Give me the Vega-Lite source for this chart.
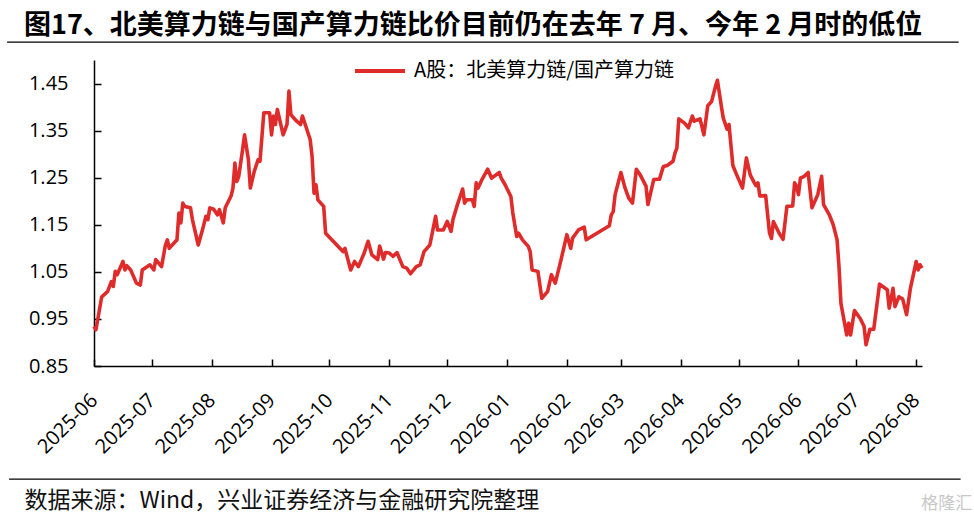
{
  "$schema": "https://vega.github.io/schema/vega-lite/v6.json",
  "width": 828,
  "height": 306,
  "autosize": {"type": "none"},
  "padding": {"left": 94, "top": 60, "right": 52, "bottom": 154},
  "background": "white",
  "config": {"view": {"stroke": null}, "font": "Noto Sans CJK SC"},
  "title": {
    "text": "图17、北美算力链与国产算力链比价目前仍在去年 7 月、今年 2 月时的低位",
    "anchor": "start",
    "frame": "group",
    "dx": -70,
    "offset": 1,
    "fontSize": 27,
    "fontWeight": "bold",
    "font": "Noto Sans CJK SC",
    "color": "#000000"
  },
  "data": {
    "values": [
      {"date": "2025-06-01", "ratio": 0.934},
      {"date": "2025-06-02", "ratio": 0.927},
      {"date": "2025-06-05", "ratio": 0.997},
      {"date": "2025-06-08", "ratio": 1.008},
      {"date": "2025-06-10", "ratio": 1.029},
      {"date": "2025-06-11", "ratio": 1.019},
      {"date": "2025-06-12", "ratio": 1.051},
      {"date": "2025-06-13", "ratio": 1.044},
      {"date": "2025-06-16", "ratio": 1.072},
      {"date": "2025-06-17", "ratio": 1.054},
      {"date": "2025-06-18", "ratio": 1.063},
      {"date": "2025-06-20", "ratio": 1.054},
      {"date": "2025-06-23", "ratio": 1.026},
      {"date": "2025-06-25", "ratio": 1.022},
      {"date": "2025-06-26", "ratio": 1.054},
      {"date": "2025-06-30", "ratio": 1.065},
      {"date": "2025-07-02", "ratio": 1.054},
      {"date": "2025-07-03", "ratio": 1.076},
      {"date": "2025-07-06", "ratio": 1.061},
      {"date": "2025-07-08", "ratio": 1.107},
      {"date": "2025-07-09", "ratio": 1.118},
      {"date": "2025-07-10", "ratio": 1.100},
      {"date": "2025-07-14", "ratio": 1.118},
      {"date": "2025-07-15", "ratio": 1.175},
      {"date": "2025-07-16", "ratio": 1.154},
      {"date": "2025-07-17", "ratio": 1.196},
      {"date": "2025-07-18", "ratio": 1.189},
      {"date": "2025-07-21", "ratio": 1.186},
      {"date": "2025-07-22", "ratio": 1.161},
      {"date": "2025-07-25", "ratio": 1.107},
      {"date": "2025-07-27", "ratio": 1.136},
      {"date": "2025-07-29", "ratio": 1.168},
      {"date": "2025-07-30", "ratio": 1.161},
      {"date": "2025-07-31", "ratio": 1.186},
      {"date": "2025-08-02", "ratio": 1.183},
      {"date": "2025-08-04", "ratio": 1.171},
      {"date": "2025-08-05", "ratio": 1.182},
      {"date": "2025-08-07", "ratio": 1.154},
      {"date": "2025-08-08", "ratio": 1.186},
      {"date": "2025-08-11", "ratio": 1.211},
      {"date": "2025-08-12", "ratio": 1.228},
      {"date": "2025-08-13", "ratio": 1.281},
      {"date": "2025-08-14", "ratio": 1.242},
      {"date": "2025-08-15", "ratio": 1.253},
      {"date": "2025-08-17", "ratio": 1.310},
      {"date": "2025-08-18", "ratio": 1.341},
      {"date": "2025-08-20", "ratio": 1.288},
      {"date": "2025-08-21", "ratio": 1.228},
      {"date": "2025-08-23", "ratio": 1.263},
      {"date": "2025-08-25", "ratio": 1.288},
      {"date": "2025-08-26", "ratio": 1.285},
      {"date": "2025-08-28", "ratio": 1.388},
      {"date": "2025-08-31", "ratio": 1.388},
      {"date": "2025-09-01", "ratio": 1.341},
      {"date": "2025-09-02", "ratio": 1.381},
      {"date": "2025-09-03", "ratio": 1.363},
      {"date": "2025-09-04", "ratio": 1.395},
      {"date": "2025-09-05", "ratio": 1.377},
      {"date": "2025-09-07", "ratio": 1.341},
      {"date": "2025-09-09", "ratio": 1.363},
      {"date": "2025-09-10", "ratio": 1.434},
      {"date": "2025-09-11", "ratio": 1.384},
      {"date": "2025-09-14", "ratio": 1.370},
      {"date": "2025-09-16", "ratio": 1.363},
      {"date": "2025-09-17", "ratio": 1.381},
      {"date": "2025-09-21", "ratio": 1.331},
      {"date": "2025-09-22", "ratio": 1.295},
      {"date": "2025-09-23", "ratio": 1.217},
      {"date": "2025-09-24", "ratio": 1.235},
      {"date": "2025-09-25", "ratio": 1.203},
      {"date": "2025-09-28", "ratio": 1.189},
      {"date": "2025-09-29", "ratio": 1.132},
      {"date": "2025-10-08", "ratio": 1.093},
      {"date": "2025-10-09", "ratio": 1.100},
      {"date": "2025-10-12", "ratio": 1.054},
      {"date": "2025-10-14", "ratio": 1.072},
      {"date": "2025-10-16", "ratio": 1.061},
      {"date": "2025-10-19", "ratio": 1.090},
      {"date": "2025-10-21", "ratio": 1.115},
      {"date": "2025-10-23", "ratio": 1.086},
      {"date": "2025-10-26", "ratio": 1.076},
      {"date": "2025-10-27", "ratio": 1.105},
      {"date": "2025-10-29", "ratio": 1.077},
      {"date": "2025-10-30", "ratio": 1.091},
      {"date": "2025-11-01", "ratio": 1.090},
      {"date": "2025-11-03", "ratio": 1.083},
      {"date": "2025-11-05", "ratio": 1.091},
      {"date": "2025-11-08", "ratio": 1.061},
      {"date": "2025-11-10", "ratio": 1.058},
      {"date": "2025-11-12", "ratio": 1.046},
      {"date": "2025-11-15", "ratio": 1.061},
      {"date": "2025-11-17", "ratio": 1.065},
      {"date": "2025-11-19", "ratio": 1.093},
      {"date": "2025-11-22", "ratio": 1.107},
      {"date": "2025-11-25", "ratio": 1.168},
      {"date": "2025-11-26", "ratio": 1.139},
      {"date": "2025-11-29", "ratio": 1.139},
      {"date": "2025-12-01", "ratio": 1.157},
      {"date": "2025-12-03", "ratio": 1.136},
      {"date": "2025-12-04", "ratio": 1.161},
      {"date": "2025-12-06", "ratio": 1.189},
      {"date": "2025-12-09", "ratio": 1.226},
      {"date": "2025-12-10", "ratio": 1.196},
      {"date": "2025-12-11", "ratio": 1.203},
      {"date": "2025-12-14", "ratio": 1.203},
      {"date": "2025-12-15", "ratio": 1.189},
      {"date": "2025-12-16", "ratio": 1.239},
      {"date": "2025-12-17", "ratio": 1.228},
      {"date": "2025-12-19", "ratio": 1.246},
      {"date": "2025-12-22", "ratio": 1.268},
      {"date": "2025-12-24", "ratio": 1.249},
      {"date": "2025-12-28", "ratio": 1.261},
      {"date": "2025-12-29", "ratio": 1.249},
      {"date": "2025-12-31", "ratio": 1.235},
      {"date": "2026-01-03", "ratio": 1.210},
      {"date": "2026-01-04", "ratio": 1.175},
      {"date": "2026-01-06", "ratio": 1.125},
      {"date": "2026-01-07", "ratio": 1.132},
      {"date": "2026-01-09", "ratio": 1.118},
      {"date": "2026-01-12", "ratio": 1.104},
      {"date": "2026-01-13", "ratio": 1.093},
      {"date": "2026-01-14", "ratio": 1.054},
      {"date": "2026-01-17", "ratio": 1.051},
      {"date": "2026-01-19", "ratio": 0.994},
      {"date": "2026-01-22", "ratio": 1.008},
      {"date": "2026-01-24", "ratio": 1.044},
      {"date": "2026-01-26", "ratio": 1.026},
      {"date": "2026-01-29", "ratio": 1.076},
      {"date": "2026-02-01", "ratio": 1.129},
      {"date": "2026-02-03", "ratio": 1.100},
      {"date": "2026-02-04", "ratio": 1.122},
      {"date": "2026-02-07", "ratio": 1.139},
      {"date": "2026-02-10", "ratio": 1.145},
      {"date": "2026-02-11", "ratio": 1.118},
      {"date": "2026-02-23", "ratio": 1.148},
      {"date": "2026-02-24", "ratio": 1.171},
      {"date": "2026-02-25", "ratio": 1.178},
      {"date": "2026-02-26", "ratio": 1.214},
      {"date": "2026-03-01", "ratio": 1.261},
      {"date": "2026-03-03", "ratio": 1.230},
      {"date": "2026-03-05", "ratio": 1.207},
      {"date": "2026-03-07", "ratio": 1.196},
      {"date": "2026-03-09", "ratio": 1.268},
      {"date": "2026-03-11", "ratio": 1.256},
      {"date": "2026-03-14", "ratio": 1.232},
      {"date": "2026-03-15", "ratio": 1.193},
      {"date": "2026-03-18", "ratio": 1.246},
      {"date": "2026-03-21", "ratio": 1.247},
      {"date": "2026-03-23", "ratio": 1.274},
      {"date": "2026-03-25", "ratio": 1.276},
      {"date": "2026-03-28", "ratio": 1.285},
      {"date": "2026-03-29", "ratio": 1.302},
      {"date": "2026-03-30", "ratio": 1.313},
      {"date": "2026-03-31", "ratio": 1.375},
      {"date": "2026-04-03", "ratio": 1.366},
      {"date": "2026-04-05", "ratio": 1.356},
      {"date": "2026-04-07", "ratio": 1.381},
      {"date": "2026-04-08", "ratio": 1.370},
      {"date": "2026-04-11", "ratio": 1.375},
      {"date": "2026-04-13", "ratio": 1.341},
      {"date": "2026-04-15", "ratio": 1.403},
      {"date": "2026-04-17", "ratio": 1.412},
      {"date": "2026-04-19", "ratio": 1.444},
      {"date": "2026-04-20", "ratio": 1.457},
      {"date": "2026-04-22", "ratio": 1.403},
      {"date": "2026-04-23", "ratio": 1.377},
      {"date": "2026-04-25", "ratio": 1.353},
      {"date": "2026-04-26", "ratio": 1.363},
      {"date": "2026-04-28", "ratio": 1.276},
      {"date": "2026-04-30", "ratio": 1.256},
      {"date": "2026-05-03", "ratio": 1.228},
      {"date": "2026-05-05", "ratio": 1.292},
      {"date": "2026-05-07", "ratio": 1.256},
      {"date": "2026-05-09", "ratio": 1.240},
      {"date": "2026-05-10", "ratio": 1.233},
      {"date": "2026-05-11", "ratio": 1.239},
      {"date": "2026-05-12", "ratio": 1.211},
      {"date": "2026-05-15", "ratio": 1.212},
      {"date": "2026-05-17", "ratio": 1.132},
      {"date": "2026-05-18", "ratio": 1.121},
      {"date": "2026-05-19", "ratio": 1.157},
      {"date": "2026-05-22", "ratio": 1.132},
      {"date": "2026-05-24", "ratio": 1.119},
      {"date": "2026-05-26", "ratio": 1.189},
      {"date": "2026-05-29", "ratio": 1.190},
      {"date": "2026-05-30", "ratio": 1.239},
      {"date": "2026-05-31", "ratio": 1.232},
      {"date": "2026-06-01", "ratio": 1.214},
      {"date": "2026-06-02", "ratio": 1.249},
      {"date": "2026-06-04", "ratio": 1.253},
      {"date": "2026-06-06", "ratio": 1.261},
      {"date": "2026-06-08", "ratio": 1.186},
      {"date": "2026-06-11", "ratio": 1.214},
      {"date": "2026-06-13", "ratio": 1.253},
      {"date": "2026-06-14", "ratio": 1.193},
      {"date": "2026-06-17", "ratio": 1.171},
      {"date": "2026-06-19", "ratio": 1.150},
      {"date": "2026-06-21", "ratio": 1.118},
      {"date": "2026-06-22", "ratio": 1.061},
      {"date": "2026-06-23", "ratio": 0.983},
      {"date": "2026-06-26", "ratio": 0.916},
      {"date": "2026-06-27", "ratio": 0.941},
      {"date": "2026-06-28", "ratio": 0.916},
      {"date": "2026-06-30", "ratio": 0.968},
      {"date": "2026-07-03", "ratio": 0.951},
      {"date": "2026-07-05", "ratio": 0.934},
      {"date": "2026-07-06", "ratio": 0.895},
      {"date": "2026-07-08", "ratio": 0.928},
      {"date": "2026-07-10", "ratio": 0.928},
      {"date": "2026-07-13", "ratio": 1.024},
      {"date": "2026-07-17", "ratio": 1.012},
      {"date": "2026-07-18", "ratio": 0.973},
      {"date": "2026-07-20", "ratio": 1.015},
      {"date": "2026-07-21", "ratio": 0.976},
      {"date": "2026-07-23", "ratio": 0.997},
      {"date": "2026-07-25", "ratio": 0.992},
      {"date": "2026-07-27", "ratio": 0.959},
      {"date": "2026-07-29", "ratio": 1.015},
      {"date": "2026-08-01", "ratio": 1.072},
      {"date": "2026-08-02", "ratio": 1.054},
      {"date": "2026-08-03", "ratio": 1.065},
      {"date": "2026-08-04", "ratio": 1.058}
    ]
  },
  "layer": [
    {
      "mark": {"type": "line", "strokeWidth": 3.6, "strokeJoin": "round"},
      "encoding": {
        "x": {
          "field": "date",
          "type": "temporal",
          "scale": {
            "type": "utc",
            "domain": [
              {"year": 2025, "month": 6, "date": 1, "utc": true},
              {"year": 2026, "month": 8, "date": 4, "utc": true}
            ]
          },
          "axis": {
            "format": "%Y-%m",
            "tickCount": {"interval": "month", "step": 1},
            "labelAngle": -45,
            "labelAlign": "right",
            "labelBaseline": "middle",
            "labelFontSize": 20,
            "labelFont": "Open Sans",
            "labelColor": "#000000",
            "labelPadding": 38,
            "labelFlush": false,
            "labelOverlap": false,
            "tickSize": -7,
            "tickColor": "#000000",
            "tickWidth": 1.5,
            "domainColor": "#000000",
            "domainWidth": 1.5,
            "grid": false,
            "title": "数据来源：Wind，兴业证券经济与金融研究院整理",
            "titleX": -70,
            "titleY": 134,
            "titleAlign": "left",
            "titleBaseline": "middle",
            "titleFontSize": 23,
            "titleFontWeight": "normal",
            "titleFont": "Noto Sans CJK SC",
            "titleColor": "#111111"
          }
        },
        "y": {
          "field": "ratio",
          "type": "quantitative",
          "scale": {"domain": [0.85, 1.5], "zero": false, "nice": false},
          "axis": {
            "values": [0.85, 0.95, 1.05, 1.15, 1.25, 1.35, 1.45],
            "format": ".2f",
            "labelFontSize": 20,
            "labelFont": "Open Sans",
            "labelColor": "#000000",
            "labelPadding": 33,
            "tickSize": -7,
            "tickColor": "#000000",
            "tickWidth": 1.5,
            "domainColor": "#000000",
            "domainWidth": 1.5,
            "grid": false,
            "title": null
          }
        },
        "color": {
          "datum": "A股：北美算力链/国产算力链",
          "type": "nominal",
          "scale": {"range": ["#E02B2B"]},
          "legend": {
            "orient": "none",
            "legendX": 259,
            "legendY": -16,
            "title": null,
            "symbolType": "stroke",
            "symbolSize": 2500,
            "symbolStrokeWidth": 4,
            "labelFontSize": 20,
            "labelFont": "Noto Sans CJK SC",
            "labelColor": "#000000",
            "labelOffset": 7,
            "labelLimit": 400
          }
        }
      }
    },
    {
      "data": {"values": [{}]},
      "mark": {"type": "rule", "color": "#000000", "strokeWidth": 1.3},
      "encoding": {
        "x": {"datum": {"year": 2025, "month": 4, "date": 17, "utc": true}, "type": "temporal"},
        "x2": {"datum": {"year": 2026, "month": 8, "date": 23, "utc": true}},
        "y": {"datum": 1.538, "type": "quantitative"}
      }
    },
    {
      "data": {"values": [{}]},
      "mark": {"type": "rule", "color": "#000000", "strokeWidth": 1.3},
      "encoding": {
        "x": {"datum": {"year": 2025, "month": 4, "date": 18, "utc": true}, "type": "temporal"},
        "x2": {"datum": {"year": 2026, "month": 8, "date": 24, "utc": true}},
        "y": {"datum": 0.6096, "type": "quantitative"}
      }
    },
    {
      "data": {"values": [{}]},
      "mark": {"type": "text", "align": "right", "baseline": "middle", "fontSize": 17, "color": "#c8c8c8", "font": "Noto Sans CJK SC"},
      "encoding": {
        "x": {"datum": {"year": 2026, "month": 8, "date": 30, "utc": true}, "type": "temporal"},
        "y": {"datum": 0.556, "type": "quantitative"},
        "text": {"value": "格隆汇"}
      }
    }
  ]
}
